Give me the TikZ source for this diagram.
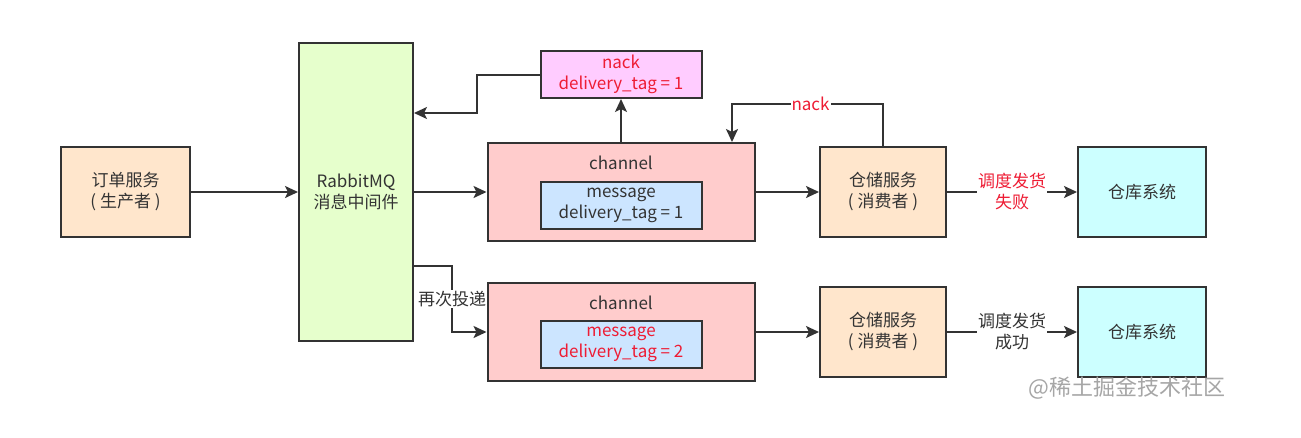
\documentclass[tikz,border=0pt]{standalone}
\usepackage{fontspec}
\setmainfont{Noto Sans CJK SC}
\usetikzlibrary{arrows.meta}
\definecolor{edge}{HTML}{333333}
\definecolor{txt}{HTML}{333333}
\definecolor{redtxt}{RGB}{238,28,52}
\definecolor{peach}{HTML}{FFE6CC}
\definecolor{lgreen}{HTML}{E6FFCC}
\definecolor{lpink}{HTML}{FFCCFF}
\definecolor{lred}{HTML}{FFCCCC}
\definecolor{lblue}{HTML}{CCE5FF}
\definecolor{lcyan}{HTML}{CCFFFF}
\tikzset{
  box/.style={draw=edge, line width=2pt, rectangle, inner sep=0pt, align=center,
    text=txt, font=\fontsize{17}{21}\selectfont},
  arr/.style={draw=edge, line width=2pt, -{Stealth[length=13pt,width=12pt,inset=3pt]}},
  lbl/.style={fill=white, inner sep=1pt, align=center, font=\fontsize{17}{21}\selectfont, text=txt},
}
\begin{document}
\begin{tikzpicture}[x=1pt,y=-1pt]
\useasboundingbox[fill=white] (0,0) rectangle (1301,437);
% boxes
\node[box, fill=peach, minimum width=129pt, minimum height=90pt] (order) at (125.5,192) {订单服务\\( 生产者 )};
\node[box, fill=lgreen, minimum width=114pt, minimum height=298pt] (mq) at (356,192) {RabbitMQ\\消息中间件};
\node[box, fill=lpink, minimum width=161pt, minimum height=47pt, text=redtxt] (nackbox) at (621,74.5) {nack\\delivery\_tag = 1};
\node[box, fill=lred, minimum width=267pt, minimum height=98pt] (ch1) at (621,192) {};
\node[lbl, fill=none] (ch1t) at (621,163) {channel};
\node[box, fill=lblue, minimum width=161pt, minimum height=47pt] (msg1) at (621,205.5) {message\\delivery\_tag = 1};
\node[box, fill=peach, minimum width=126pt, minimum height=90pt] (store1) at (883,192) {仓储服务\\( 消费者 )};
\node[box, fill=lcyan, minimum width=128pt, minimum height=90pt] (wh1) at (1142,192) {仓库系统};
\node[box, fill=lred, minimum width=267pt, minimum height=98pt] (ch2) at (621,332) {};
\node[lbl, fill=none] (ch2t) at (621,303) {channel};
\node[box, fill=lblue, minimum width=161pt, minimum height=47pt, text=redtxt] (msg2) at (621,344.5) {message\\delivery\_tag = 2};
\node[box, fill=peach, minimum width=126pt, minimum height=90pt] (store2) at (883,332) {仓储服务\\( 消费者 )};
\node[box, fill=lcyan, minimum width=128pt, minimum height=90pt] (wh2) at (1142,332) {仓库系统};
% connectors
\draw[arr] (order) -- (mq);
\draw[arr] (mq) -- (ch1);
\draw[arr] (ch1.north) -- (nackbox.south);
\draw[arr] (nackbox.west) -- ++(-63,0) |- ([yshift=79pt]mq.east);
\draw[arr] (store1.north) -- ++(0,-42) -| node[pos=0.24, lbl, text=redtxt] {nack} ([xshift=111pt]ch1.north);
\draw[arr] (ch1) -- (store1);
\draw[arr] (store1) -- node[lbl, text=redtxt] {调度发货\\失败} (wh1);
\draw[arr] ([yshift=-74pt]mq.east) -- ++(38,0) |- node[pos=0.25, lbl] {再次投递} (ch2.west);
\draw[arr] (ch2) -- (store2);
\draw[arr] (store2) -- node[lbl] {调度发货\\成功} (wh2);
% watermark
\node[text=black!35, font=\fontsize{22}{24}\selectfont, inner sep=0pt] (wm) at (1127,388) {@稀土掘金技术社区};
\end{tikzpicture}
\end{document}
